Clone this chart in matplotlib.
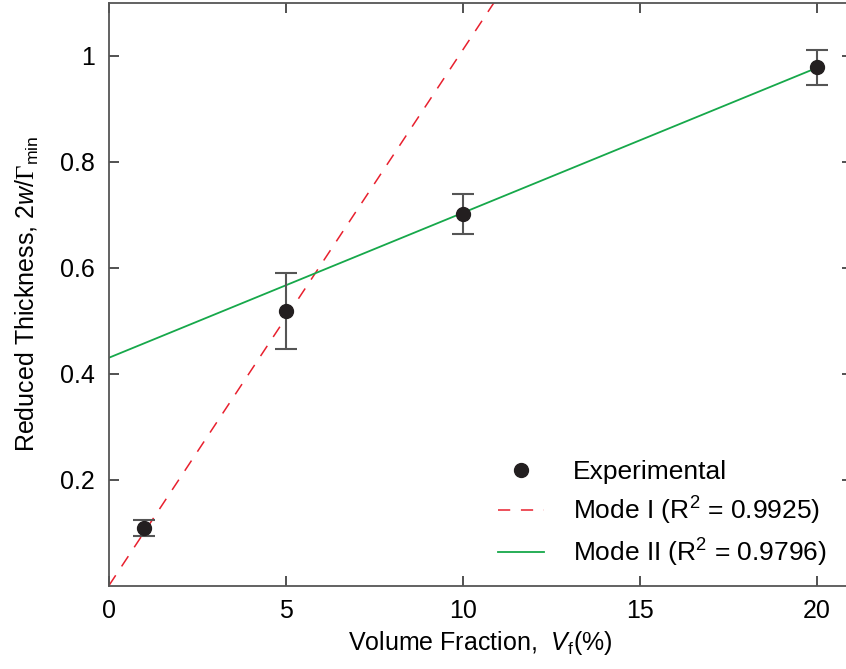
import numpy as np
import matplotlib
matplotlib.use('Agg')
import matplotlib.pyplot as plt
from matplotlib.lines import Line2D

plt.rcParams['font.family'] = ['Liberation Sans', 'DejaVu Sans']
plt.rcParams['mathtext.fontset'] = 'custom'
plt.rcParams['mathtext.rm'] = 'Liberation Sans'
plt.rcParams['mathtext.it'] = 'Liberation Sans:italic'
plt.rcParams['mathtext.sf'] = 'Liberation Serif'

# experimental data
vf = [1, 5, 10, 20]
thickness = [0.108, 0.518, 0.702, 0.978]
err = [0.015, 0.072, 0.038, 0.033]

# fits
mode1_slope = 0.1011
mode2_slope = 0.02735
mode2_intercept = 0.430

fig = plt.figure(figsize=(8.46, 6.69), dpi=100)
ax = fig.add_axes([0.1288, 0.1248, 0.8782, 0.871])

x1 = np.array([0, 21])
ax.plot(x1, mode1_slope * x1, color='#e8202e', lw=1.1, dashes=(8, 7))
x2 = np.array([0, 20])
ax.plot(x2, mode2_intercept + mode2_slope * x2, color='#16a84a', lw=1.3)
ax.errorbar(vf, thickness, yerr=err, fmt='o', color='#231f20', ms=10,
            ecolor='#555555', elinewidth=1.5, capsize=8, capthick=1.5, zorder=5)

ax.set_xlim(0, 21)
ax.set_ylim(0, 1.1)
ax.set_xticks([0, 5, 10, 15, 20])
ax.set_yticks([0.2, 0.4, 0.6, 0.8, 1.0])
ax.set_yticklabels(['0.2', '0.4', '0.6', '0.8', '1'])
ax.tick_params(direction='in', length=7, width=1.2, color='#333333',
               labelsize=18, top=True, right=True, pad=10)
for s in ax.spines.values():
    s.set_color('#555555')
    s.set_linewidth(1.3)

ax.set_xlabel(r'Volume Fraction,  $V_{\rm f}$(%)', fontsize=18, labelpad=4)
ax.set_ylabel(r'Reduced Thickness, 2$w$/$\mathsf{\Gamma}_{\rm min}$', fontsize=18, labelpad=14)

handles = [
    Line2D([], [], marker='o', ls='none', color='#231f20', ms=10),
    Line2D([], [], color='#e8202e', lw=1.1, dashes=(8, 7)),
    Line2D([], [], color='#16a84a', lw=1.3),
]
labels = ['Experimental', r'Mode I (R$^2$ = 0.9925)', r'Mode II (R$^2$ = 0.9796)']
ax.legend(handles, labels, loc='lower right', bbox_to_anchor=(0.998, -0.012),
          frameon=False, fontsize=19, handlelength=1.75, handletextpad=1.1,
          labelspacing=0.38)

fig.savefig('out.png', dpi=100)
